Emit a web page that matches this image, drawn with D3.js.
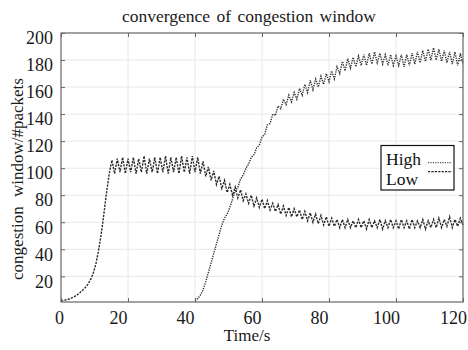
<!DOCTYPE html>
<html><head><meta charset="utf-8">
<script src="https://cdn.jsdelivr.net/npm/d3@7/dist/d3.min.js"></script>
<style>body{margin:0;background:#fff}svg{display:block}</style>
</head><body><svg id="c" width="468" height="350"></svg>
<script>
const titleText = "convergence of congestion window";
const xLabel = "Time/s";
const yLabel = "congestion window/#packets";
const xTicks = [0, 20, 40, 60, 80, 100, 120];
const yTicks = [20, 40, 60, 80, 100, 120, 140, 160, 180, 200];
const seriesNames = ["High", "Low"];
const sampleStep = 0.8; // seconds between samples
const lowStart = 0;
const lowValues = [
  2.0,2.3,2.7,3.2,4.0,5.0,6.3,7.8,9.6,11.6,
  14.0,17.5,22,29,39,51,66,82,96,106,
  96,107,97,108,96,107,97,108,96,107,
  97,109,96,107,97,108,96,108,97,109,
  96,108,97,108,96,109,97,108,96,109,
  97,108,96,105,94,101,91,98,88,94,
  85,91,82,88,80,86,78,84,76,81,
  74,80,72,78,71,77,70,76,69,74,
  68,73,66,72,65,71,64,70,64,69,
  62,68,61,67,60,66,59,65,58,64,
  57,63,57,62,56,62,56,62,56,61,
  56,62,56,61,55,62,56,61,56,62,
  55,61,56,62,56,61,55,62,56,61,
  55,62,56,61,56,62,55,61,56,62,
  56,63,56,62,57,64,56,62,57,63,
  58
];
const highStart = 40;
const highValues = [
  2,3.5,6,10,16,23,30,37,44,51,
  58,63,66,71,77,83,86,92,95,100,
  103,108,110,115,117,123,125,132,133,140,
  139,146,144,151,147,154,149,156,151,159,
  154,162,156,165,158,166,160,168,162,170,
  164,172,166,175,170,179,172,181,174,182,
  175,183,176,184,176,185,177,186,178,185,
  177,184,176,184,176,183,176,184,175,184,
  176,185,177,186,178,187,179,188,180,189,
  180,188,179,187,178,186,177,186,176,185,
  177
];

const svg = d3.select("#c");
const mLeft = 61, mRight = 463, mTop = 33, mBottom = 302;
const x = d3.scaleLinear().domain([0, 120]).range([mLeft, mRight]);
const y = d3.scaleLinear().domain([1, 200]).range([mBottom, mTop]);
const serif = "'Liberation Serif', 'Times New Roman', serif";
const axisColor = "#666";

// grid
const grid = svg.append("g");
grid.selectAll("line.gx").data(xTicks.slice(1, -1)).join("line")
  .attr("x1", d => x(d)).attr("x2", d => x(d)).attr("y1", mTop).attr("y2", mBottom)
  .attr("stroke", "#e8e8e8").attr("stroke-width", 1);
grid.selectAll("line.gy").data(yTicks.slice(0, -1)).join("line")
  .attr("x1", mLeft).attr("x2", mRight).attr("y1", d => y(d)).attr("y2", d => y(d))
  .attr("stroke", "#e8e8e8").attr("stroke-width", 1);

// series
const lowData = lowValues.map((v, i) => [lowStart + i * sampleStep, v]);
const highData = highValues.map((v, i) => [highStart + i * sampleStep, v]);
const line = d3.line().x(d => x(d[0])).y(d => y(d[1]));
svg.append("path").datum(lowData).attr("d", line)
  .attr("fill", "none").attr("stroke", "#2a2a2a").attr("stroke-width", 1.4)
  .attr("stroke-dasharray", "2.2,1.2");
svg.append("path").datum(highData).attr("d", line)
  .attr("fill", "none").attr("stroke", "#333").attr("stroke-width", 1.4)
  .attr("stroke-dasharray", "1.3,1.1");

// axes
function styleAxis(g) {
  g.attr("font-family", null).attr("font-size", null);
  g.select(".domain").remove();
  g.selectAll(".tick line").attr("stroke", axisColor);
  g.selectAll("text").attr("fill", "#1a1a1a").style("font-family", serif).style("font-size", "18px");
}
const gx = svg.append("g").attr("transform", `translate(0,${mBottom})`)
  .call(d3.axisBottom(x).tickValues(xTicks).tickSize(-4).tickPadding(9).tickFormat(d3.format("d")));
styleAxis(gx);
gx.selectAll("text").attr("x", d => d === 0 ? -2 : -10);
const gxt = svg.append("g").attr("transform", `translate(0,${mTop})`)
  .call(d3.axisTop(x).tickValues(xTicks).tickSize(-4).tickFormat(""));
styleAxis(gxt);
const gy = svg.append("g").attr("transform", `translate(${mLeft},0)`)
  .call(d3.axisLeft(y).tickValues(yTicks).tickSize(-4).tickPadding(8).tickFormat(d3.format("d")));
styleAxis(gy);
gy.selectAll("text").attr("y", 5);
const gyr = svg.append("g").attr("transform", `translate(${mRight},0)`)
  .call(d3.axisRight(y).tickValues(yTicks).tickSize(-4).tickFormat(""));
styleAxis(gyr);

// frame
svg.append("rect").attr("x", mLeft).attr("y", mTop).attr("width", mRight - mLeft).attr("height", mBottom - mTop)
  .attr("fill", "none").attr("stroke", axisColor).attr("stroke-width", 1.2);

// title and labels
svg.append("text").attr("x", 249).attr("y", 22).attr("text-anchor", "middle")
  .style("font-family", serif).style("font-size", "17.5px").style("word-spacing", "2px")
  .attr("fill", "#1a1a1a").text(titleText);
svg.append("text").attr("x", 247).attr("y", 341).attr("text-anchor", "middle")
  .style("font-family", serif).style("font-size", "17px").attr("fill", "#1a1a1a").text(xLabel);
svg.append("text").attr("transform", "translate(23,179) rotate(-90)").attr("text-anchor", "middle")
  .style("font-family", serif).style("font-size", "17px").style("word-spacing", "5px")
  .attr("fill", "#1a1a1a").text(yLabel);

// legend
const lg = svg.append("g");
lg.append("rect").attr("x", 381).attr("y", 145.5).attr("width", 73).attr("height", 44.5)
  .attr("fill", "#fff").attr("stroke", "#111").attr("stroke-width", 1.2);
const legendDash = {High: "1.2,1.2", Low: "2.2,1.2"};
const legendStroke = {High: "#555", Low: "#222"};
seriesNames.forEach((name, i) => {
  lg.append("text").attr("x", 386).attr("y", 165 + i * 19.5)
    .style("font-family", serif).style("font-size", "17.5px").attr("fill", "#111").text(name);
  lg.append("line").attr("x1", 428).attr("x2", 452)
    .attr("y1", 162.7 + i * 9).attr("y2", 162.7 + i * 9)
    .attr("stroke", legendStroke[name]).attr("stroke-width", 1.2)
    .attr("stroke-dasharray", legendDash[name]);
});
</script>
</body></html>
